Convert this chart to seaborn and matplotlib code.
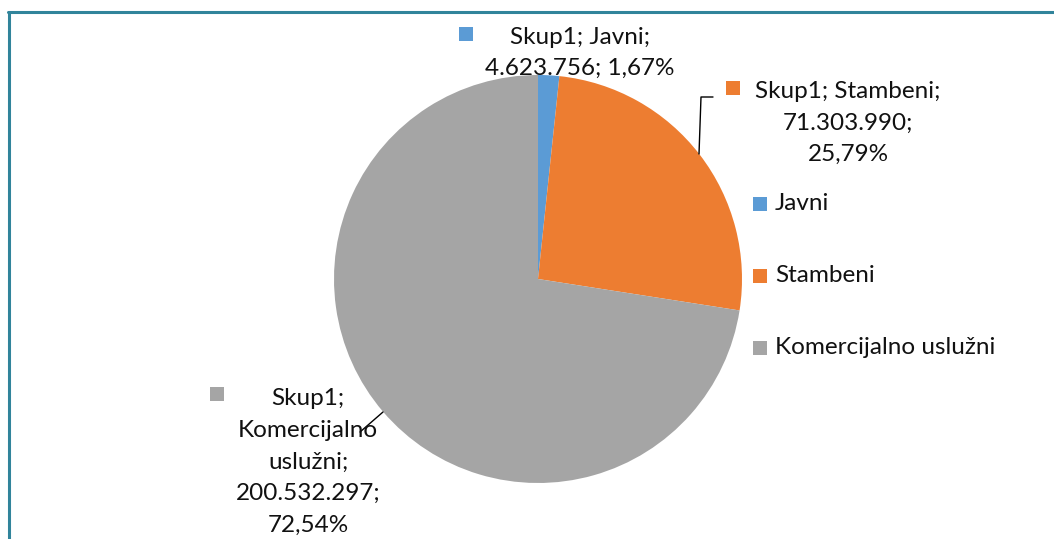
import matplotlib
matplotlib.use("Agg")
import matplotlib.pyplot as plt
import seaborn as sns
from matplotlib.patches import Rectangle
from matplotlib.lines import Line2D

# data
categories = ["Javni", "Stambeni", "Komercijalno uslužni"]
values = [4623756, 71303990, 200532297]
series_name = "Skup1"
colors = ["#5B9BD5", "#ED7D31", "#A5A5A5"]

sns.set_style("white")
plt.rcParams["font.family"] = ["Lato", "DejaVu Sans"]

W, H = 1054, 539
fig = plt.figure(figsize=(W / 100, H / 100), dpi=100)
ax = fig.add_axes([0, 0, 1, 1])


def fy(y):
    # pixel row from the top -> data y
    return H - y


wedges, _ = ax.pie(values, colors=colors, startangle=90, counterclock=False,
                   center=(538, fy(279)), radius=204, frame=True,
                   wedgeprops=dict(linewidth=0))
ax.set_xlim(0, W)
ax.set_ylim(0, H)
ax.axis("off")

total = sum(values)


def fmt_num(v):
    return f"{v:,}".replace(",", ".")


def fmt_pct(v):
    return f"{v / total * 100:.2f}".replace(".", ",") + "%"


fs = 17.5
ls = 1.62
# data labels
lab_javni = f"{series_name}; {categories[0]};\n{fmt_num(values[0])}; {fmt_pct(values[0])}"
lab_stamb = f"{series_name}; {categories[1]};\n{fmt_num(values[1])};\n{fmt_pct(values[1])}"
lab_kom = f"{series_name};\nKomercijalno\nuslužni;\n{fmt_num(values[2])};\n{fmt_pct(values[2])}"

ax.text(580, fy(53), lab_javni, ha="center", va="center", fontsize=fs, linespacing=ls,
        color="#111111")
ax.text(848, fy(123), lab_stamb, ha="center", va="center", fontsize=fs, linespacing=ls,
        color="#111111")
ax.text(308, fy(462), lab_kom, ha="center", va="center", fontsize=fs, linespacing=ls,
        color="#111111")

# little colour keys in front of the labels
for (x, y), c in zip([(459, 27), (726, 81), (210, 387)], colors):
    ax.add_patch(Rectangle((x, fy(y + 14)), 14, 14, color=c, lw=0))

# leader lines
ax.plot([713, 701, 699], [fy(97), fy(97), fy(154)], color="black", lw=1)
ax.plot([383, 360], [fy(412), fy(432)], color="black", lw=1)

# legend
for (lab, c, y) in zip(categories, colors, [204, 276, 348]):
    ax.add_patch(Rectangle((753, fy(y + 7)), 14, 14, color=c, lw=0))
    ax.text(775, fy(y), lab, ha="left", va="center", fontsize=fs, color="#111111")

# chart border (top and left only visible)
border = "#31849B"
fig.add_artist(Line2D([8 / W, 1], [1 - 12 / H, 1 - 12 / H], color=border, lw=2.2))
fig.add_artist(Line2D([9 / W, 9 / W], [0, 1 - 12 / H], color=border, lw=2.2))

fig.savefig("out.png", dpi=100)
